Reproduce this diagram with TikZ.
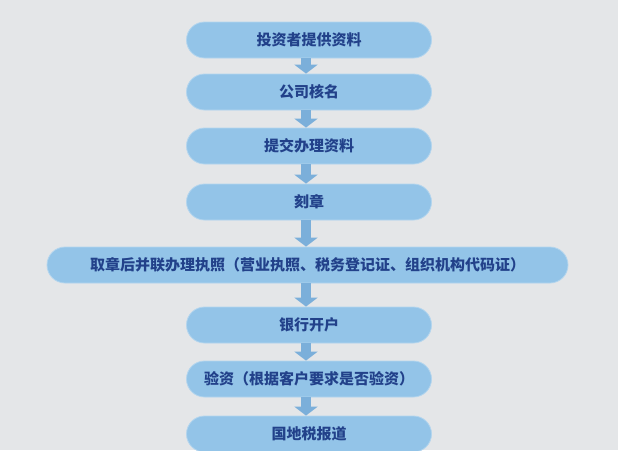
\documentclass[tikz,border=0pt]{standalone}
\usepackage{fontspec}
\newfontfamily\cjk{Noto Sans CJK SC}
\usepackage{tikz}
\usetikzlibrary{arrows.meta}
\definecolor{bgcol}{HTML}{E4E6E8}
\definecolor{boxcol}{HTML}{93C4E8}
\definecolor{boxline}{HTML}{B3D5EE}
\definecolor{textcol}{HTML}{22418A}
\definecolor{arrowcol}{HTML}{7BAFDA}
\tikzset{
	stepbox/.style={draw=boxline, line width=0.8pt, fill=boxcol, rounded corners=18pt,
		minimum width=245pt, minimum height=36pt, inner sep=0pt,
		text=textcol, font=\cjk\bfseries\fontsize{15}{18}\selectfont},
	widebox/.style={stepbox, minimum width=521pt},
	flowarrow/.style={arrowcol, line width=10pt, -{Triangle[width=23pt, length=9pt]}}
}

\begin{document}
\begin{tikzpicture}[x=1pt, y=-1pt]
		%%%%% START %%%%%
		
		\fill[bgcol] (0, 0) rectangle (618, 450);
		\useasboundingbox (0, 0) rectangle (618, 450);
		
		\node[stepbox] (ziliao) at (309, 40) {投资者提供资料};
		\node[stepbox] (heming) at (309, 92) {公司核名};
		\node[stepbox] (tijiao) at (309, 146) {提交办理资料};
		\node[stepbox] (kezhang) at (309, 202) {刻章};
		
		\node[widebox] (zhizhao) at (307.5, 265) {取章后并联办理执照（营业执照、税务登记证、组织机构代码证）};
		
		\node[stepbox] (kaihu) at (309, 325) {银行开户};
		\node[stepbox] (yanzi) at (309, 379) {验资（根据客户要求是否验资）};
		\node[stepbox] (baodao) at (309, 434) {国地税报道};
		
		\coordinate (axis) at (306, 0);
		\foreach \a/\b in {ziliao/heming, heming/tijiao, tijiao/kezhang, kezhang/zhizhao,
			zhizhao/kaihu, kaihu/yanzi, yanzi/baodao}
			\draw[flowarrow] (\a.south -| axis) -- (\b.north -| axis);
		
		%%%%% END %%%%%
	\end{tikzpicture}
\end{document}
